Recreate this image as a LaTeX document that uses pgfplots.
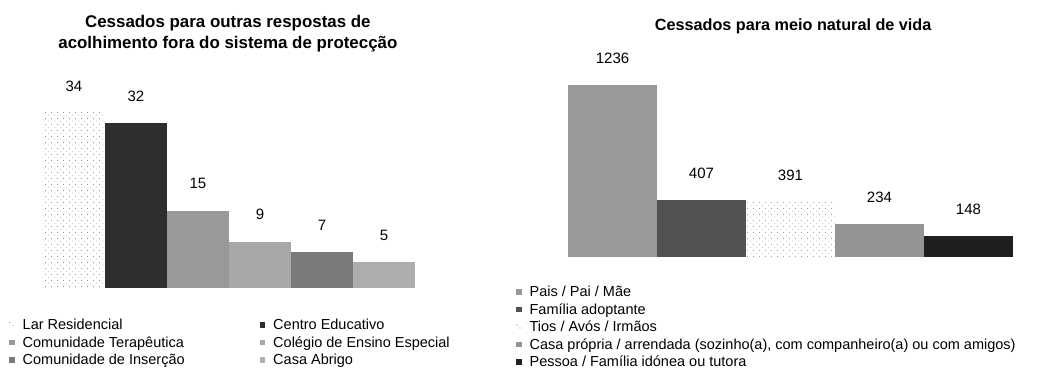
\documentclass[border=0pt]{standalone}
\usepackage{fontspec}
\setmainfont{Liberation Sans}
\usepackage{pgfplots}
\pgfplotsset{compat=1.18}
\usetikzlibrary{patterns}

\pgfdeclarepatternformonly{sparsedots}{\pgfpointorigin}{\pgfpoint{6pt}{6pt}}{\pgfpoint{6pt}{6pt}}{%
  \pgfpathcircle{\pgfpoint{1pt}{1pt}}{0.55pt}%
  \pgfpathcircle{\pgfpoint{4pt}{4pt}}{0.55pt}%
  \pgfusepath{fill}%
}

\pgfplotsset{
  barchart/.style={
    scale only axis,
    axis lines=none,
    ybar, bar shift=0pt,
    ymin=0,
    xtick=\empty, ytick=\empty,
    clip=false,
    point meta=explicit symbolic,
    nodes near coords,
    every node near coord/.append style={font=\fontsize{15}{18}\selectfont,
      anchor=center, yshift=27pt},
    title style={align=center, anchor=center},
    legend cell align=left,
    legend style={draw=none, fill=none, font=\fontsize{14.5}{17.5}\selectfont,
      inner sep=0pt, row sep=0pt,
      nodes={inner sep=1pt, text height=12.5pt, text depth=3pt},
      /tikz/every odd column/.append style={column sep=7pt}},
    legend image code/.code={\fill[##1] (0pt,-2.8pt) rectangle (5.5pt,2.8pt);},
  },
  dotted bar/.style={draw=none, fill=white,
    postaction={pattern=sparsedots, pattern color=black!50}},
}

\begin{document}
\begin{tikzpicture}[x=1pt,y=1pt]
\useasboundingbox (0,0) rectangle (1047,374);

% left chart
\begin{axis}[barchart,
  at={(43pt,86pt)}, anchor=south west,
  width=372pt, height=206pt,
  xmin=-0.5, xmax=5.5, ymax=40,
  bar width=1,
  title={Cessados para outras respostas de\\acolhimento fora do sistema de protecção},
  title style={at={(0.497,1.206)}, font=\fontsize{16.9}{21}\selectfont\bfseries},
  legend columns=2,
  legend style={at={(-0.0914,-0.136)}, anchor=north west,
    /tikz/column 2/.style={column sep=74pt}},
]
\addplot[dotted bar] coordinates {(0,34) [34]};
\addplot[draw=none, fill=black!82] coordinates {(1,32) [32]};
\addplot[draw=none, fill=black!40] coordinates {(2,15) [15]};
\addplot[draw=none, fill=black!34] coordinates {(3,9) [9]};
\addplot[draw=none, fill=black!52] coordinates {(4,7) [7]};
\addplot[draw=none, fill=black!32] coordinates {(5,5) [5]};
\legend{Lar Residencial, Centro Educativo, Comunidade Terapêutica,
  Colégio de Ensino Especial, Comunidade de Inserção, Casa Abrigo}
\end{axis}

% right chart
\begin{axis}[barchart,
  at={(568pt,117pt)}, anchor=south west,
  width=445pt, height=195pt,
  xmin=-0.5, xmax=4.5, ymax=1400,
  bar width=1,
  title={Cessados para meio natural de vida},
  title style={at={(0.506,1.154)}, font=\fontsize{16.2}{20}\selectfont\bfseries},
  legend style={at={(-0.117,-0.133)}, anchor=north west},
]
\addplot[draw=none, fill=black!40] coordinates {(0,1236) [1236]};
\addplot[draw=none, fill=black!68] coordinates {(1,407) [407]};
\addplot[dotted bar] coordinates {(2,391) [391]};
\addplot[draw=none, fill=black!42] coordinates {(3,234) [234]};
\addplot[draw=none, fill=black!88] coordinates {(4,148) [148]};
\legend{Pais / Pai / Mãe, Família adoptante, Tios / Avós / Irmãos,
  {Casa própria / arrendada (sozinho(a), com companheiro(a) ou com amigos)},
  Pessoa / Família idónea ou tutora}
\end{axis}
\end{tikzpicture}
\end{document}
